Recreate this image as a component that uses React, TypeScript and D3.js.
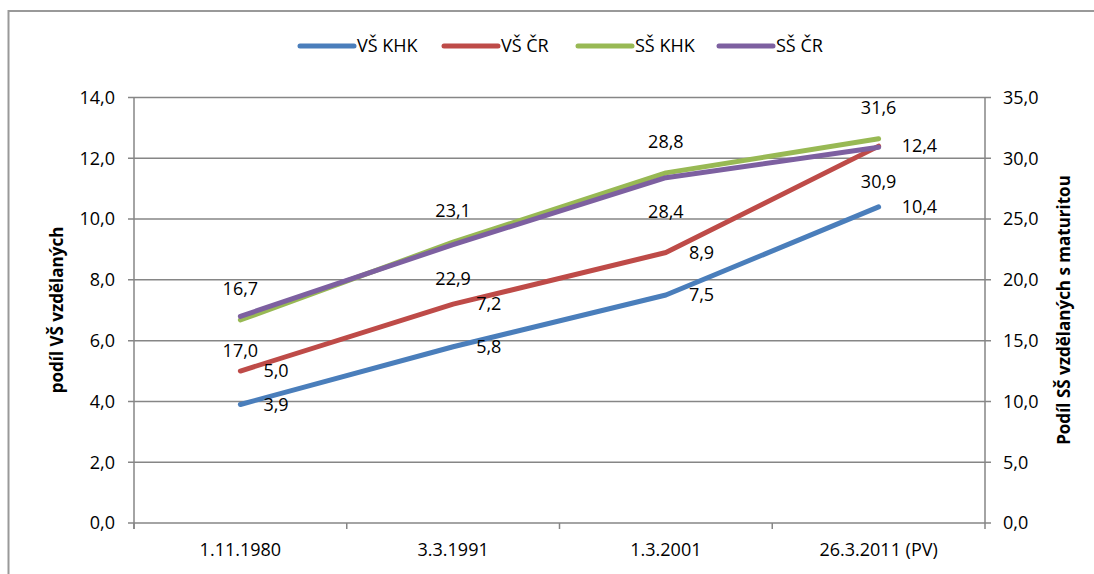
import React from "react";
import * as d3 from "d3";

const categories = ["1.11.1980", "3.3.1991", "1.3.2001", "26.3.2011 (PV)"];
const vsKHK = [3.9, 5.8, 7.5, 10.4];
const vsCR = [5.0, 7.2, 8.9, 12.4];
const ssKHK = [16.7, 23.1, 28.8, 31.6];
const ssCR = [17.0, 22.9, 28.4, 30.9];
const leftTicks = [0, 2, 4, 6, 8, 10, 12, 14];
const rightTicks = [0, 5, 10, 15, 20, 25, 30, 35];

const W = 1094;
const H = 574;
const FONT = "'Open Sans', sans-serif";
const GRID = "#868686";

const series = [
  { name: "VŠ KHK", values: vsKHK, axis: "left", color: "#4A7EBB", label: "right" },
  { name: "VŠ ČR", values: vsCR, axis: "left", color: "#BE4B48", label: "right" },
  { name: "SŠ KHK", values: ssKHK, axis: "right", color: "#98B954", label: "above" },
  { name: "SŠ ČR", values: ssCR, axis: "right", color: "#7D60A0", label: "below" },
];

const fmt = (v: number) => v.toFixed(1).replace(".", ",");

export default function App() {
  const left = 134, right = 985, top = 97.5, bottom = 523;
  const x = d3.scaleBand<string>().domain(categories).range([left, right]);
  const yL = d3.scaleLinear().domain([0, 14]).range([bottom, top]);
  const yR = d3.scaleLinear().domain([0, 35]).range([bottom, top]);
  const cx = (c: string) => (x(c) as number) + x.bandwidth() / 2;

  const legendItems = [
    { lx: 300, tx: 357 },
    { lx: 444, tx: 501 },
    { lx: 578, tx: 635 },
    { lx: 719, tx: 776 },
  ];

  return (
    <svg width={W} height={H} style={{ display: "block", position: "absolute", left: 0, top: 0 }} fontFamily={FONT}>
      <rect x={0} y={0} width={W} height={H} fill="#fff" />
      <path d={`M8.5,${H + 5} L8.5,11 L${W + 5},11`} fill="none" stroke="#999" strokeWidth={2} />

      {/* gridlines */}
      {leftTicks.map((t) => (
        <line key={"g" + t} x1={left - 6} x2={right + 6} y1={yL(t)} y2={yL(t)} stroke={GRID} strokeWidth={1.5} />
      ))}
      {/* axes */}
      <line x1={left} x2={left} y1={top} y2={bottom + 6} stroke={GRID} strokeWidth={1.5} />
      <line x1={right} x2={right} y1={top} y2={bottom + 6} stroke={GRID} strokeWidth={1.5} />
      {categories.map((c) => (
        <line key={"t" + c} x1={x(c) as number} x2={x(c) as number} y1={bottom} y2={bottom + 6} stroke={GRID} strokeWidth={1.5} />
      ))}

      {/* left tick labels */}
      {leftTicks.map((t) => (
        <text key={"l" + t} x={115} y={yL(t)} dy="0.35em" textAnchor="end" fontSize={18} fill="#000">
          {fmt(t)}
        </text>
      ))}
      {rightTicks.map((t) => (
        <text key={"r" + t} x={1003} y={yR(t)} dy="0.35em" textAnchor="start" fontSize={18} fill="#000">
          {fmt(t)}
        </text>
      ))}
      {categories.map((c) => (
        <text key={"c" + c} x={cx(c)} y={550} dy="0.35em" textAnchor="middle" fontSize={18} fill="#000">
          {c}
        </text>
      ))}

      {/* axis titles */}
      <text transform={`translate(57,310) rotate(-90)`} textAnchor="middle" dy="0.35em" fontSize={17} fontWeight="bold" fill="#000">
        podíl VŠ vzdělaných
      </text>
      <text transform={`translate(1064,310) rotate(-90)`} textAnchor="middle" dy="0.35em" fontSize={17} fontWeight="bold" fill="#000">
        Podíl SŠ vzdělaných s maturitou
      </text>

      {/* lines */}
      {series.map((s) => {
        const y = s.axis === "left" ? yL : yR;
        const gen = d3
          .line<number>()
          .x((_, i) => cx(categories[i]))
          .y((v) => y(v));
        return (
          <path key={s.name} d={gen(s.values) as string} fill="none" stroke={s.color} strokeWidth={5} strokeLinecap="round" strokeLinejoin="round" />
        );
      })}

      {/* data labels */}
      {series.map((s) => {
        const y = s.axis === "left" ? yL : yR;
        return s.values.map((v, i) => {
          const px = cx(categories[i]);
          const py = y(v);
          if (s.label === "right")
            return (
              <text key={s.name + i} x={px + 23} y={py} dy="0.35em" fontSize={18} fill="#000">
                {fmt(v)}
              </text>
            );
          const off = s.label === "above" ? -31 : 34;
          return (
            <text key={s.name + i} x={px} y={py + off} dy="0.35em" textAnchor="middle" fontSize={18} fill="#000">
              {fmt(v)}
            </text>
          );
        });
      })}

      {/* legend */}
      {series.map((s, i) => (
        <g key={"lg" + s.name}>
          <line x1={legendItems[i].lx} x2={legendItems[i].lx + 54} y1={46} y2={46} stroke={s.color} strokeWidth={5} strokeLinecap="round" />
          <text x={legendItems[i].tx} y={46} dy="0.35em" fontSize={18} fill="#000">
            {s.name}
          </text>
        </g>
      ))}
    </svg>
  );
}
